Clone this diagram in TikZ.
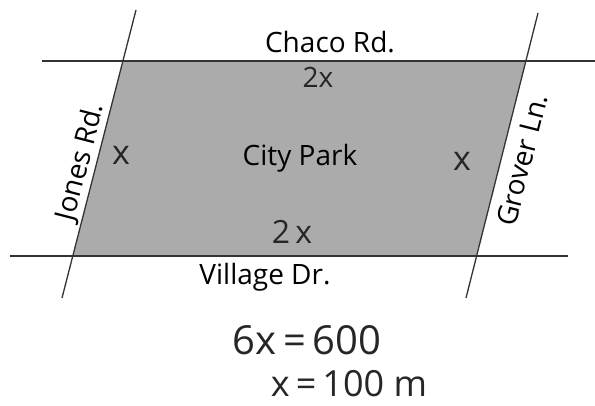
\documentclass[tikz,border=0pt]{standalone}
\usepackage{fontspec}
\setmainfont{Open Sans}
\begin{document}
\begin{tikzpicture}
  [x=1pt, y=-1pt,
   road/.style={draw=black!80, line width=1.3pt},
   park/.style={fill=black!33},
   roadname/.style={font=\fontsize{28}{30}\selectfont, inner sep=0pt},
   hand/.style={font=\fontsize{28}{30}\selectfont, inner sep=0pt, text=black!85}]

  \useasboundingbox (0,0) rectangle (595,406);

  % road ends
  \coordinate (c1) at (42,61);   \coordinate (c2) at (595,61);
  \coordinate (v1) at (10,256);  \coordinate (v2) at (568,256);
  \coordinate (j1) at (136,10);  \coordinate (j2) at (62,298);
  \coordinate (g1) at (538,13);  \coordinate (g2) at (466,298);

  % corners of the park
  \coordinate (p1) at (123,61);
  \coordinate (p2) at (526,61);
  \coordinate (p3) at (476.6,256);
  \coordinate (p4) at (72.8,256);

  \fill[park] (p1) -- (p2) -- (p3) -- (p4) -- cycle;

  \foreach \from/\to in {c1/c2, v1/v2, j1/j2, g1/g2}
    \draw[road] (\from) -- (\to);

  \node[roadname] (chaco) at (330,42) {Chaco Rd.};
  \node[roadname] (village) at (265,277) {Village Dr.};
  \node[roadname, rotate=75.6] (jones) at (81,162) {Jones Rd.};
  \node[roadname, rotate=75.8] (grover) at (522,160) {Grover Ln.};
  \node[roadname] (city) at (300,158) {City Park};

  \node[hand] (top) at (318,77) {2x};
  \node[hand, font=\fontsize{32}{34}\selectfont] (bottom) at (292,232) {2\,x};
  \node[hand, font=\fontsize{34}{36}\selectfont] (left) at (121,155) {x};
  \node[hand, font=\fontsize{34}{36}\selectfont] (right) at (462,161) {x};

  \node[hand, font=\fontsize{40}{42}\selectfont] (eq1) at (307,340) {6x\,=\,600};
  \node[hand, font=\fontsize{36}{38}\selectfont] (eq2) at (349,384) {x\,=\,100 m};
\end{tikzpicture}
\end{document}
